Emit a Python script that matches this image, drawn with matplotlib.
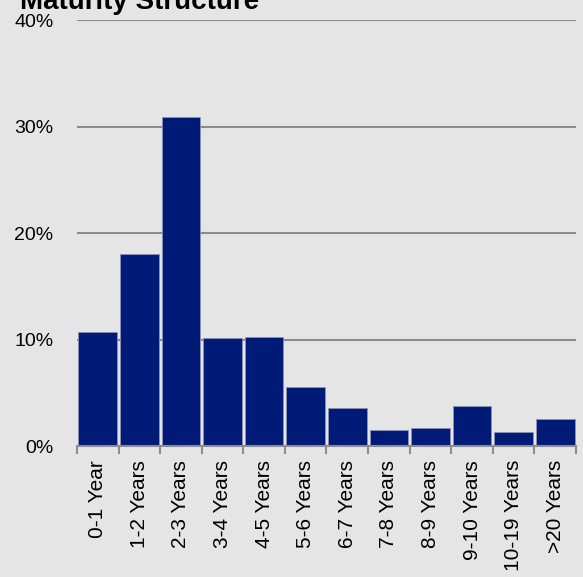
import numpy as np
import matplotlib.pyplot as plt

plt.rcParams['font.family'] = ['Liberation Sans', 'DejaVu Sans']

categories = ['0-1 Year', '1-2 Years', '2-3 Years', '3-4 Years', '4-5 Years',
              '5-6 Years', '6-7 Years', '7-8 Years', '8-9 Years', '9-10 Years',
              '10-19 Years', '>20 Years']
shares = [10.7, 18.0, 30.9, 10.1, 10.2, 5.5, 3.6, 1.5, 1.7, 3.8, 1.3, 2.5]
y_ticks = [0, 10, 20, 30, 40]
y_labels = ['0%', '10%', '20%', '30%', '40%']

bg = '#e5e5e5'
fig = plt.figure(figsize=(5.83, 5.77), dpi=100, facecolor=bg)
ax = fig.add_axes([0.132, 0.227, 0.856, 0.738], facecolor=bg)

x = np.arange(len(categories))
ax.bar(x, shares, width=0.93, color='#001a78', edgecolor='#8a93b8',
       linewidth=0.6, zorder=3)

ax.set_xlim(-0.5, len(categories) - 0.5)
ax.set_ylim(0, 40)
ax.set_yticks(y_ticks)
ax.set_yticklabels(y_labels, fontsize=14)
ax.tick_params(axis='y', length=0, pad=17)
ax.yaxis.grid(True, color='#8c8c8c', linewidth=1.5, zorder=1)

ax.set_xticks(x)
ax.set_xticklabels(categories, rotation=90, fontsize=15)
ax.tick_params(axis='x', which='major', length=0, pad=10)
ax.set_xticks(np.arange(-0.5, len(categories)), minor=True)
ax.tick_params(axis='x', which='minor', length=6, width=1.5, color='#8c8c8c')

for side in ['top', 'right', 'left']:
    ax.spines[side].set_visible(False)
ax.spines['bottom'].set_color('#8c8c8c')
ax.spines['bottom'].set_linewidth(1.5)
ax.spines['bottom'].set_zorder(4)

fig.text(0.035, 1 - 9 / 577, 'Maturity Structure', fontsize=20,
         fontweight='bold', va='baseline', ha='left')

fig.savefig('out.png', dpi=100, facecolor=bg)
